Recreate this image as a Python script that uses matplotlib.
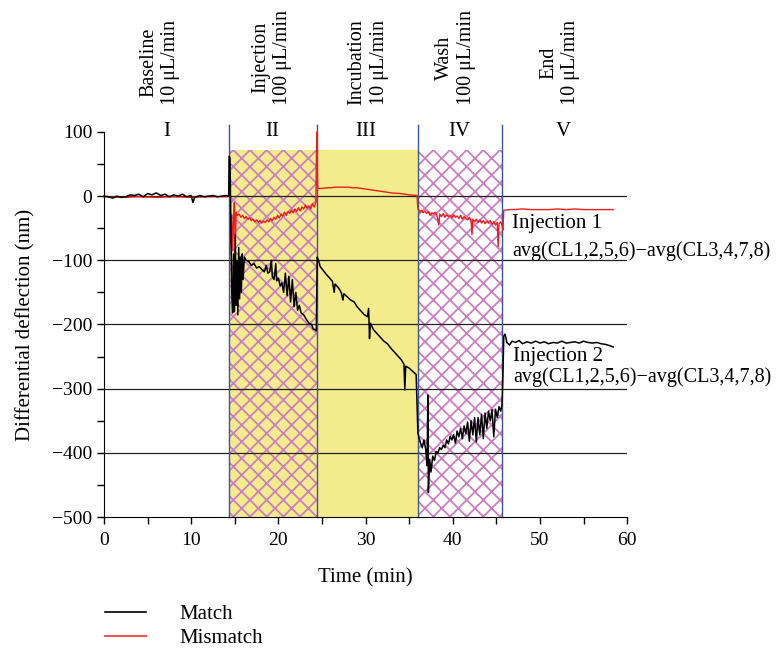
import matplotlib
matplotlib.use('Agg')
import matplotlib.pyplot as plt
from matplotlib.lines import Line2D
from matplotlib.ticker import MultipleLocator

plt.rcParams['font.family'] = ['Liberation Serif', 'DejaVu Serif']
plt.rcParams['hatch.linewidth'] = 1.3
plt.rcParams['hatch.color'] = '#cc7fc0'

# phase boundaries (min) and labels
bounds = [0, 14.3, 24.4, 36.0, 45.7, 60]
roman = ['I', 'II', 'III', 'IV', 'V']
phases = ['Baseline\n10 \u03bcL/min', 'Injection\n100 \u03bcL/min',
          'Incubation\n10 \u03bcL/min', 'Wash\n100 \u03bcL/min',
          'End\n10 \u03bcL/min']
phase_x = [6.4, 19.2, 30.3, 40.3, 52.3]
roman_x = [7.2, 19.3, 30.0, 40.7, 52.7]

# Match (black)
match_t = [0, 0.5, 1, 1.5, 2, 2.5, 3, 3.5, 4, 4.5, 5, 5.5, 6, 6.5, 7, 7.5, 8, 8.5, 9, 9.5,
           10, 10.2, 10.4, 11, 11.5, 12, 12.5, 13, 13.5, 14, 14.2,
           14.3, 14.35, 14.45, 14.55, 14.65, 14.75, 14.85, 14.95, 15.05, 15.15, 15.25, 15.35,
           15.45, 15.55, 15.65, 15.75, 15.85, 15.95, 16.1, 16.3, 16.6, 16.9, 17.2, 17.5, 17.8,
           18.1, 18.4, 18.6, 18.8, 19.0, 19.2, 19.3, 19.5, 19.7, 19.8, 20.0, 20.2, 20.4, 20.6,
           20.8, 21.0, 21.2, 21.4, 21.6, 21.8, 22.0, 22.2, 22.4, 22.6, 22.9, 23.2, 23.5, 23.8,
           24.0, 24.2, 24.35,
           24.45, 24.6, 24.8, 25.1, 25.5, 25.9, 26.2, 26.4, 26.5, 26.9, 27.2, 27.4, 27.5, 27.9,
           28.3, 28.7, 29.0, 29.4, 29.8, 30.2, 30.35, 30.45, 30.55, 30.9, 31.3, 31.7, 32.1,
           32.5, 32.9, 33.3, 33.7, 34.1, 34.4, 34.5, 34.6, 35.0, 35.4, 35.8,
           36.0, 36.3, 36.5, 36.7, 36.9, 37.05, 37.15, 37.2, 37.35, 37.5, 37.7, 37.9, 38.1,
           38.3, 38.5, 38.7, 38.9, 39.1, 39.3, 39.5, 39.7, 39.9, 40.1, 40.3, 40.5, 40.7, 40.9,
           41.1, 41.3, 41.5, 41.7, 41.9, 42.1, 42.3, 42.5, 42.7, 42.9, 43.1, 43.3, 43.5, 43.7,
           43.9, 44.1, 44.3, 44.5, 44.7, 44.9, 45.1, 45.3, 45.5, 45.65,
           45.75, 45.85, 46.0, 46.2, 46.5, 46.8, 47.2, 47.6, 48.0, 48.5, 49.0, 49.5, 50.0,
           50.5, 51.0, 51.5, 52.0, 52.5, 53.0, 53.5, 54.0, 54.5, 55.0, 55.5, 56.0, 56.5,
           57.0, 57.5, 58.0, 58.4]
match_y = [0, -1, -3, 0, -2, -1, 2, 1, 3, -1, 4, 2, 5, 1, 3, -1, 2, 0, 3, -1,
           1, -10, -2, 1, -1, 0, 1, -1, 0, 1, 0,
           0, 62, 60, -40, -150, -182, -90, -180, -60, -170, -100, -185,
           -80, -160, -95, -150, -90, -130, -95, -100, -102, -108, -105, -112, -110,
           -114, -118, -108, -120, -118, -100, -125, -130, -105, -132, -128, -140, -135, -150,
           -120, -155, -125, -165, -130, -172, -150, -178, -170, -182, -185, -192, -198, -200,
           -207, -208, -210,
           -95, -100, -110, -115, -122, -128, -133, -150, -137, -143, -150, -162, -152, -157,
           -162, -165, -172, -178, -184, -188, -175, -222, -198, -208, -214, -220, -226,
           -230, -237, -243, -249, -255, -262, -302, -265, -268, -273, -278,
           -370, -385, -392, -380, -395, -420, -310, -462, -410, -430, -405, -412, -398,
           -400, -392, -395, -388, -392, -380, -386, -374, -380, -372, -385, -366, -375, -362,
           -378, -358, -370, -352, -382, -350, -372, -345, -383, -345, -372, -340, -378, -338,
           -362, -335, -350, -333, -375, -332, -345, -328, -335, -325,
           -280, -218, -215, -228, -232, -226, -228, -225, -230, -227, -229, -226, -229,
           -227, -230, -228, -229, -226, -229, -228, -227, -229, -226, -228, -229, -228,
           -230, -231, -233, -235]

# Mismatch (red)
mismatch_t = [0, 2, 4, 6, 8, 10, 12, 14.2,
              14.3, 14.4, 14.45, 14.55, 14.65, 14.75, 14.85, 14.95, 15.05, 15.15, 15.3, 15.5,
              15.7, 15.9, 16.1, 16.3, 16.5, 16.7, 16.9, 17.1, 17.3, 17.5, 17.7, 17.9, 18.1,
              18.3, 18.5, 18.7, 18.9, 19.1, 19.3, 19.5, 19.7, 19.9, 20.1, 20.3, 20.5, 20.7,
              20.9, 21.1, 21.3, 21.5, 21.7, 21.9, 22.1, 22.3, 22.5, 22.7, 22.9, 23.1, 23.3,
              23.5, 23.7, 23.9, 24.1, 24.3,
              24.4, 24.5,
              25, 25.5, 26, 26.5, 27, 27.5, 28, 28.5, 29, 29.5, 30, 30.5, 31, 31.5, 32, 32.5,
              33, 33.5, 34, 34.5, 35, 35.5, 35.9,
              36.0, 36.2, 36.4, 36.6, 36.8, 37.0, 37.2, 37.4, 37.6, 37.8, 38.0, 38.2, 38.4,
              38.5, 38.7, 38.9, 39.1, 39.3, 39.5, 39.7, 39.9, 40.1, 40.3, 40.5, 40.7, 40.9,
              41.1, 41.3, 41.5, 41.7, 41.9, 42.1, 42.2, 42.3, 42.5, 42.7, 42.9, 43.1, 43.3,
              43.5, 43.7, 43.9, 44.1, 44.3, 44.5, 44.7, 44.9, 45.1, 45.2, 45.3, 45.5, 45.65,
              45.75, 45.85, 46.5, 47, 48, 49, 50, 51, 52, 53, 54, 55, 56, 57, 58, 58.4]
mismatch_y = [-1, -2, -1, -2, -1, -2, -1, -1,
              0, 10, -20, -75, -30, -84, -40, -10, -80, -25, -30, -28,
              -33, -30, -35, -32, -36, -34, -38, -36, -40, -37, -41, -38, -42,
              -39, -41, -37, -40, -35, -38, -33, -36, -30, -34, -28, -31, -25,
              -30, -24, -27, -22, -26, -20, -24, -18, -23, -17, -20, -14, -19,
              -15, -20, -12, -17, -10,
              100, 12,
              12, 13, 13, 14, 14, 14, 14, 13, 13, 12, 11, 10, 9, 8, 7, 6,
              5, 4.5, 4, 3, 2, 1.5, 1,
              -20, -25, -22, -26, -23, -27, -24, -30, -26, -28, -25, -31, -45,
              -28, -32, -27, -33, -29, -32, -30, -34, -29, -33, -31, -35, -30,
              -36, -32, -35, -37, -33, -38, -60, -36, -40, -36, -41, -37, -42,
              -38, -43, -39, -42, -38, -44, -40, -45, -41, -79, -43, -40, -46,
              -53, -22, -21, -21, -20, -21, -21, -21, -20, -21, -20, -21, -21, -21, -21, -21]

fig = plt.figure(figsize=(7.82, 6.5), dpi=100)
ax = fig.add_axes([0.133, 0.2046, 0.669, 0.5924])

shade_top = 72
yellow = '#f4ec8c'
ax.fill_between([bounds[1], bounds[2]], -500, shade_top, facecolor=yellow,
                hatch='xx', edgecolor='#cc7fc0', linewidth=0, zorder=0)
ax.fill_between([bounds[2], bounds[3]], -500, shade_top, facecolor=yellow,
                linewidth=0, zorder=0)
ax.fill_between([bounds[3], bounds[4]], -500, shade_top, facecolor='white',
                hatch='xx', edgecolor='#cc7fc0', linewidth=0, zorder=0)

for v in [0, -100, -200, -300, -400]:
    ax.plot([0, 60], [v, v], color='#222222', lw=0.9, zorder=1)

for b in bounds[1:5]:
    ax.plot([b, b], [-500, 111], color='#3a55a8', lw=1.0, zorder=1, clip_on=False)

ax.plot(mismatch_t, mismatch_y, color='#ee1c1c', lw=1.0, zorder=2, clip_on=False)
ax.plot(match_t, match_y, color='black', lw=1.1, zorder=3, clip_on=False)

ax.set_xlim(0, 60)
ax.set_ylim(-500, 100)
ax.spines['top'].set_visible(False)
ax.spines['right'].set_visible(False)
ax.xaxis.set_major_locator(MultipleLocator(10))
ax.xaxis.set_minor_locator(MultipleLocator(5))
ax.yaxis.set_major_locator(MultipleLocator(100))
ax.yaxis.set_minor_locator(MultipleLocator(50))
ax.tick_params(which='both', direction='out', length=5, width=1, labelsize=14)
ax.tick_params(axis='x', pad=6)
ax.set_yticks([100, 0, -100, -200, -300, -400, -500])
ax.set_yticklabels(['100', '0', '\u2212100', '\u2212200', '\u2212300', '\u2212400', '\u2212500'])
ax.set_xlabel('Time (min)', fontsize=15, labelpad=14)
ax.set_ylabel('Differential deflection (nm)', fontsize=15, labelpad=12)

for x, r in zip(roman_x, roman):
    ax.text(x, 100, r, ha='center', va='center', fontsize=15)
for x, p in zip(phase_x, phases):
    ax.text(x, 142, p, rotation=90, ha='center', va='bottom', fontsize=14.5,
            multialignment='center', linespacing=1.2)

ax.text(46.8, -42, 'Injection 1', fontsize=15, va='center', ha='left')
ax.text(46.8, -86, 'avg(CL1,2,5,6)\u2212avg(CL3,4,7,8)', fontsize=14.5, va='center', ha='left')
ax.text(46.9, -250, 'Injection 2', fontsize=15, va='center', ha='left')
ax.text(46.9, -282, 'avg(CL1,2,5,6)\u2212avg(CL3,4,7,8)', fontsize=14.5, va='center', ha='left')

handles = [Line2D([], [], color='black', lw=1.2), Line2D([], [], color='#e85a5a', lw=1.5)]
fig.legend(handles, ['Match', 'Mismatch'], loc='upper left', bbox_to_anchor=(0.134, 0.07),
           frameon=False, fontsize=15, handlelength=2, handletextpad=1.6,
           labelspacing=0.2, borderaxespad=0, borderpad=0)

fig.savefig('out.png', dpi=100)
